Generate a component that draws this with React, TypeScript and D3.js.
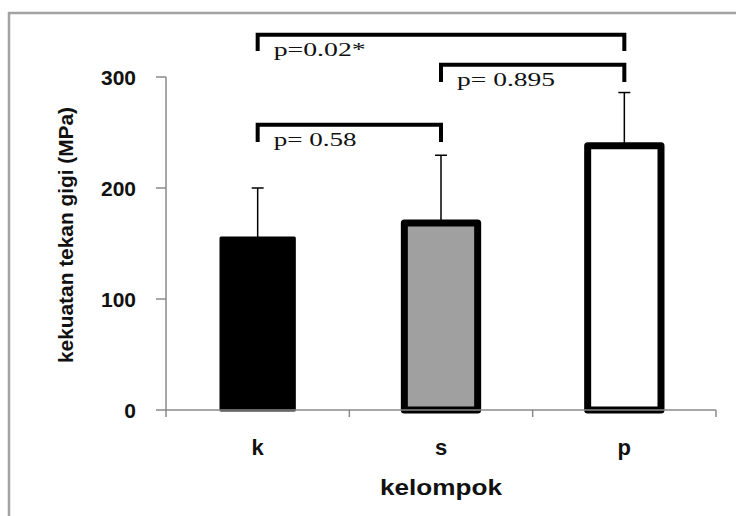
import * as d3 from "d3";
import React, { useEffect } from "react";

// groups, means and SD
const groups = ["k", "s", "p"];
const means = [155, 168.5, 238];
const sds = [45, 61, 48];
const fills = ["#000000", "#a0a0a0", "#ffffff"];
const yTicks = [0, 100, 200, 300];

// significance brackets (y in MPa units)
const brackets = [
  { from: "k", to: "p", top: 338, leg: 323.5, label: "p=0.02*", len: 92 },
  { from: "s", to: "p", top: 311, leg: 295.5, label: "p= 0.895", len: 98 },
  { from: "k", to: "s", top: 257, leg: 241.5, label: "p= 0.58", len: 83 },
];

const W = 736;
const H = 516;
const sans = "'Liberation Sans', Arial, sans-serif";
const serif = "'Liberation Serif', 'Times New Roman', serif";

export default function App() {
  useEffect(() => {
    // no page scrollbars
    document.documentElement.style.overflow = "hidden";
    document.body.style.margin = "0";
  }, []);

  const x = d3
    .scaleBand<string>()
    .domain(groups)
    .range([166, 716])
    .paddingInner(0.6)
    .paddingOuter(0.3);
  const y = d3.scaleLinear().domain([0, 300]).range([410, 77]);
  const step = x.step();
  const cx = (g: string) => (x(g) as number) + x.bandwidth() / 2;
  const axisColor = "#8a8a8a";

  return (
    <svg
      width={W}
      height={H}
      style={{ position: "fixed", left: 0, top: 0, background: "#fff" }}
    >
      {/* frame */}
      <path d="M9,516 V13 H736" fill="none" stroke="#a3a3a3" strokeWidth={2.5} />

      {/* y axis */}
      <line x1={166} x2={166} y1={y(300)} y2={y(0)} stroke={axisColor} strokeWidth={1.5} />
      {yTicks.map((t) => (
        <g key={t}>
          <line x1={156} x2={166} y1={y(t)} y2={y(t)} stroke={axisColor} strokeWidth={1.5} />
          <text
            x={136}
            y={y(t)}
            dy="0.36em"
            textAnchor="end"
            fontFamily={sans}
            fontWeight="bold"
            fontSize={21}
            fill="#111"
          >
            {t}
          </text>
        </g>
      ))}

      {/* bars */}
      {groups.map((g, i) => (
        <g key={g}>
          <line
            x1={cx(g)}
            x2={cx(g)}
            y1={y(means[i])}
            y2={y(means[i] + sds[i])}
            stroke="#000"
            strokeWidth={1.5}
          />
          <line
            x1={cx(g) - 6}
            x2={cx(g) + 6}
            y1={y(means[i] + sds[i])}
            y2={y(means[i] + sds[i])}
            stroke="#000"
            strokeWidth={1.5}
          />
          <rect
            x={x(g)}
            y={y(means[i])}
            width={x.bandwidth()}
            height={y(0) - y(means[i])}
            fill={fills[i]}
            stroke="#000"
            strokeWidth={i === 0 ? 3 : 7}
            strokeLinejoin="round"
          />
        </g>
      ))}

      {/* x axis */}
      <line x1={166} x2={716} y1={y(0)} y2={y(0)} stroke={axisColor} strokeWidth={1.5} />
      {d3.range(groups.length + 1).map((i) => (
        <line
          key={i}
          x1={166 + i * step}
          x2={166 + i * step}
          y1={y(0)}
          y2={y(0) + 7}
          stroke={axisColor}
          strokeWidth={1.5}
        />
      ))}
      {groups.map((g) => (
        <text
          key={g}
          x={cx(g)}
          y={455}
          textAnchor="middle"
          fontFamily={sans}
          fontWeight="bold"
          fontSize={22}
          fill="#111"
        >
          {g}
        </text>
      ))}

      {/* axis titles */}
      <text
        x={441}
        y={495}
        textAnchor="middle"
        fontFamily={sans}
        fontWeight="bold"
        fontSize={22}
        textLength={122}
        lengthAdjust="spacingAndGlyphs"
        fill="#111"
      >
        kelompok
      </text>
      <text
        transform="translate(73,235) rotate(-90)"
        textAnchor="middle"
        fontFamily={sans}
        fontWeight="bold"
        fontSize={21}
        textLength={256}
        lengthAdjust="spacingAndGlyphs"
        fill="#111"
      >
        kekuatan tekan gigi (MPa)
      </text>

      {/* brackets */}
      {brackets.map((b) => {
        const x1 = cx(b.from);
        const x2 = cx(b.to);
        return (
          <g key={b.label}>
            <path
              d={`M${x1},${y(b.leg)} V${y(b.top)} H${x2} V${y(b.leg)}`}
              fill="none"
              stroke="#000"
              strokeWidth={4}
            />
            <text
              x={x1 + 16}
              y={y(b.top) + 21}
              fontFamily={serif}
              fontSize={19}
              textLength={b.len}
              lengthAdjust="spacingAndGlyphs"
              fill="#111"
            >
              {b.label}
            </text>
          </g>
        );
      })}
    </svg>
  );
}
